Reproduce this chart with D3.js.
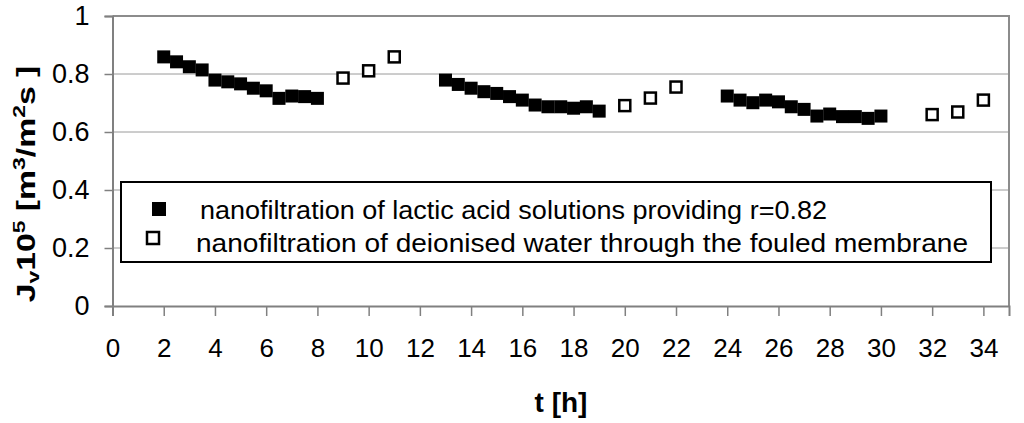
<!DOCTYPE html>
<html>
<head>
<meta charset="utf-8">
<script src="https://cdn.jsdelivr.net/npm/d3@7.9.0/dist/d3.min.js"></script>
<style>
    body { margin: 0; background: #fff; }
    svg { display: block; font-family: "Liberation Sans", Arial, sans-serif; }
</style>
</head>
<body>
<svg id="chart" width="1024" height="423"></svg>
<script>
// lactic acid nanofiltration runs (filled squares)
const lacticTimes = [
    2, 2.5, 3, 3.5, 4, 4.5, 5, 5.5, 6, 6.5, 7, 7.5, 8,
    13, 13.5, 14, 14.5, 15, 15.5, 16, 16.5, 17, 17.5, 18, 18.5, 19,
    24, 24.5, 25, 25.5, 26, 26.5, 27, 27.5, 28, 28.5, 29, 29.5, 30
];
const lacticFlux = [
    0.859, 0.842, 0.825, 0.814, 0.779, 0.773, 0.766, 0.751, 0.742, 0.716, 0.724, 0.722, 0.716,
    0.779, 0.764, 0.751, 0.739, 0.733, 0.722, 0.710, 0.693, 0.687, 0.687, 0.682, 0.687, 0.672,
    0.724, 0.710, 0.701, 0.710, 0.704, 0.687, 0.678, 0.655, 0.662, 0.653, 0.653, 0.647, 0.655
];

// deionised water through fouled membrane (open squares)
const waterTimes = [9, 10, 11, 20, 21, 22, 32, 33, 34];
const waterFlux = [0.786, 0.811, 0.859, 0.691, 0.717, 0.755, 0.660, 0.669, 0.710];

const xTicks = d3.range(0, 35, 2);
const yTicks = [0, 0.2, 0.4, 0.6, 0.8, 1];
const legendLabels = [
    'nanofiltration of lactic acid solutions providing r=0.82',
    'nanofiltration of deionised water through the fouled membrane'
];

let svg = d3.select('#chart');

let x = d3.scaleLinear().domain([0, 35]).range([112.5, 1009]);
let y = d3.scaleLinear().domain([0, 1]).range([306, 16]);

// gridlines
svg.append('g')
    .selectAll('line')
    .data(yTicks.filter(d => d > 0 && d < 1))
    .join('line')
    .attr('x1', x(0)).attr('x2', x(35))
    .attr('y1', d => y(d)).attr('y2', d => y(d))
    .attr('stroke', '#9a9a9a').attr('stroke-width', 1);

// plot frame (top + right)
svg.append('path')
    .attr('d', `M${x(0)},${y(1)}H${x(35)}V${y(0)}`)
    .attr('fill', 'none').attr('stroke', '#8c8c8c').attr('stroke-width', 2);

// y axis
let yAxis = svg.append('g')
    .attr('transform', `translate(${x(0)},0)`)
    .call(d3.axisLeft(y).tickValues(yTicks).tickSize(8).tickPadding(15)
        .tickFormat(d => d === 0 || d === 1 ? d3.format('d')(d) : d3.format('.1f')(d)));

// x axis
let xAxis = svg.append('g')
    .attr('transform', `translate(0,${y(0)})`)
    .call(d3.axisBottom(x).tickValues(xTicks).tickSize(10).tickPadding(23).tickFormat(d3.format('d')));

[yAxis, xAxis].forEach(ax => {
    ax.attr('font-family', '"Liberation Sans", Arial, sans-serif');
    ax.select('.domain').attr('stroke', '#808080').attr('stroke-width', 2);
    ax.selectAll('.tick line').attr('stroke', '#808080').attr('stroke-width', 1.5);
    ax.selectAll('.tick text').attr('fill', '#000');
});
yAxis.attr('font-size', 27);
xAxis.attr('font-size', 26);

// data points
const size = 13;
svg.append('g')
    .selectAll('rect')
    .data(lacticTimes.map((t, i) => [t, lacticFlux[i]]))
    .join('rect')
    .attr('x', d => x(d[0]) - size / 2)
    .attr('y', d => y(d[1]) - size / 2)
    .attr('width', size).attr('height', size)
    .attr('fill', '#000');

const hs = 11;
svg.append('g')
    .selectAll('rect')
    .data(waterTimes.map((t, i) => [t, waterFlux[i]]))
    .join('rect')
    .attr('x', d => x(d[0]) - hs / 2)
    .attr('y', d => y(d[1]) - hs / 2)
    .attr('width', hs).attr('height', hs)
    .attr('fill', '#fff').attr('stroke', '#000').attr('stroke-width', 2.5);

// legend
let legend = svg.append('g');
legend.append('rect')
    .attr('x', 121).attr('y', 182).attr('width', 870).attr('height', 80)
    .attr('fill', '#fff').attr('stroke', '#000').attr('stroke-width', 2);

legend.append('rect')
    .attr('x', 152).attr('y', 202).attr('width', 14).attr('height', 14)
    .attr('fill', '#000');
legend.append('rect')
    .attr('x', 147).attr('y', 232).attr('width', 12).attr('height', 12)
    .attr('fill', '#fff').attr('stroke', '#000').attr('stroke-width', 2.5);

legend.append('text')
    .attr('x', 200).attr('y', 219)
    .attr('textLength', 627).attr('lengthAdjust', 'spacingAndGlyphs')
    .style('font-size', '26px')
    .text(legendLabels[0]);
legend.append('text')
    .attr('x', 196).attr('y', 252)
    .attr('textLength', 772).attr('lengthAdjust', 'spacingAndGlyphs')
    .style('font-size', '26px')
    .text(legendLabels[1]);

// axis titles
svg.append('text')
    .attr('x', 561).attr('y', 412)
    .attr('text-anchor', 'middle')
    .style('font-size', '28px').style('font-weight', 'bold')
    .text('t [h]');

let yTitle = svg.append('text')
    .attr('transform', 'translate(35,184) rotate(-90) scale(1.35,1)')
    .attr('text-anchor', 'middle')
    .style('font-size', '25px').style('font-weight', 'bold');
yTitle.append('tspan').text('J');
yTitle.append('tspan').attr('dy', 4).style('font-size', '17px').text('v');
yTitle.append('tspan').attr('dy', -4).text('10');
yTitle.append('tspan').attr('dy', -10).style('font-size', '17px').text('5');
yTitle.append('tspan').attr('dy', 10).text(' [m');
yTitle.append('tspan').attr('dy', -10).style('font-size', '17px').text('3');
yTitle.append('tspan').attr('dy', 10).text('/m');
yTitle.append('tspan').attr('dy', -10).style('font-size', '17px').text('2');
yTitle.append('tspan').attr('dy', 10).text('s ]');
</script>
</body>
</html>
